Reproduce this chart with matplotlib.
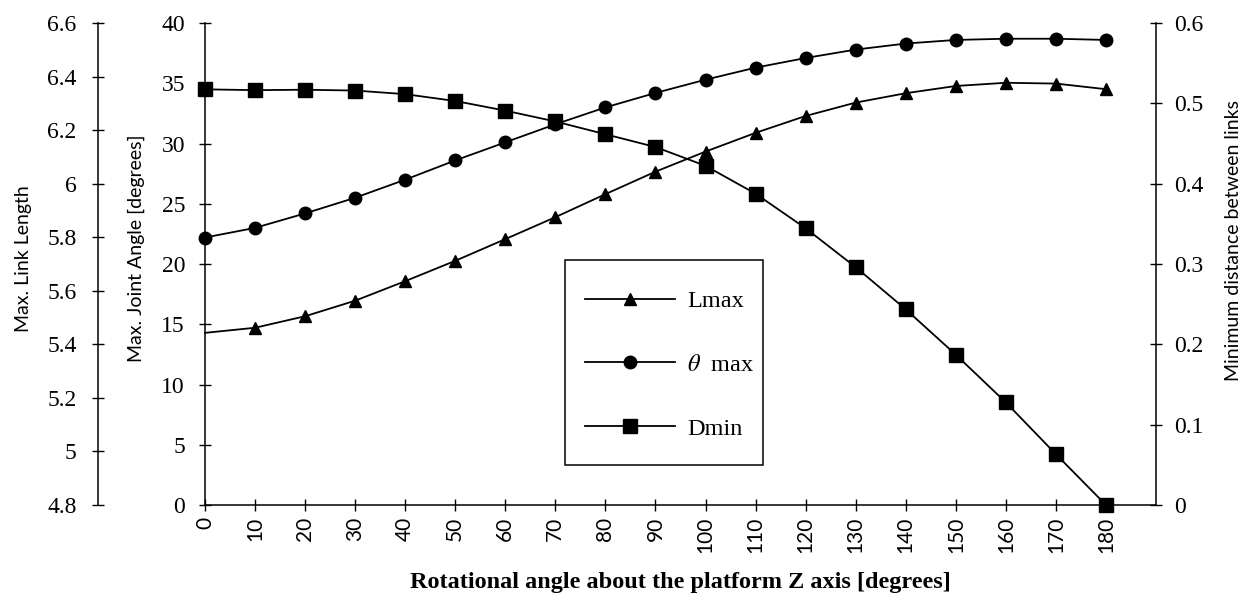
import matplotlib
matplotlib.use("Agg")
import matplotlib.pyplot as plt
from matplotlib.patches import Rectangle

plt.rcParams['mathtext.fontset'] = 'stix'

# rotation angle of the platform about Z [deg]
angle = [0, 10, 20, 30, 40, 50, 60, 70, 80, 90, 100, 110, 120, 130, 140, 150, 160, 170, 180]

# max link length
l_max = [5.443, 5.462, 5.505, 5.563, 5.636, 5.712, 5.793, 5.875, 5.961, 6.045,
         6.120, 6.190, 6.253, 6.303, 6.338, 6.365, 6.377, 6.374, 6.353]

# max joint angle [deg]
theta_max = [22.2, 23.0, 24.2, 25.5, 27.0, 28.6, 30.1, 31.6, 33.0, 34.2,
             35.3, 36.3, 37.1, 37.8, 38.3, 38.6, 38.7, 38.7, 38.6]

# min distance between links
d_min = [0.5175, 0.5165, 0.517, 0.516, 0.5115, 0.503, 0.491, 0.4775, 0.4616, 0.4457,
         0.4223, 0.3876, 0.3445, 0.2961, 0.2436, 0.1871, 0.1277, 0.0632, 0.0]

x_ticks = list(range(0, 190, 10))
theta_ticks = list(range(0, 45, 5))
l_ticks = [4.8, 5.0, 5.2, 5.4, 5.6, 5.8, 6.0, 6.2, 6.4, 6.6]
l_ticklabels = ['4.8', '5', '5.2', '5.4', '5.6', '5.8', '6', '6.2', '6.4', '6.6']
d_ticks = [0, 0.1, 0.2, 0.3, 0.4, 0.5, 0.6]
d_ticklabels = ['0', '0.1', '0.2', '0.3', '0.4', '0.5', '0.6']

serif = 'Liberation Serif'
sans = ['Lato', 'DejaVu Sans']

W, H = 1257, 607
fig = plt.figure(figsize=(W / 100, H / 100), dpi=100)
ax = fig.add_axes([0.163, 0.168, 0.7567, 0.794])
ax_l = ax.twinx()
ax_d = ax.twinx()

lw = 1.3
tick_kw = dict(direction='inout', length=8.6, width=1.0, color='black')

# middle axis: joint angle
ax.set_xlim(0, 190)
ax.set_ylim(0, 40)
ax.set_xticks(x_ticks)
ax.set_xticklabels([str(v) for v in x_ticks], rotation=90, fontfamily=sans, fontsize=15)
ax.set_yticks(theta_ticks)
ax.set_yticklabels([str(v) for v in theta_ticks], fontfamily=serif, fontsize=17)
ax.tick_params(axis='y', pad=10, **tick_kw)
ax.tick_params(axis='x', pad=4, **tick_kw)
for s in ['top', 'right']:
    ax.spines[s].set_visible(False)
for s in ['left', 'bottom']:
    ax.spines[s].set_linewidth(1.1)
ax.set_ylabel('Max. Joint Angle [degrees]', fontfamily=sans, fontsize=14, labelpad=12)
ax.yaxis.label.set_y(0.533)
ax.set_xlabel('Rotational angle about the platform Z axis [degrees]',
              fontfamily=serif, fontweight='bold', fontsize=17.5, labelpad=14)

# outer left axis: link length
ax_l.set_ylim(4.8, 6.6)
ax_l.spines['left'].set_position(('outward', 77))
ax_l.spines['left'].set_visible(True)
ax_l.spines['left'].set_linewidth(1.1)
for s in ['top', 'right', 'bottom']:
    ax_l.spines[s].set_visible(False)
ax_l.yaxis.set_ticks_position('left')
ax_l.yaxis.set_label_position('left')
ax_l.set_yticks(l_ticks)
ax_l.set_yticklabels(l_ticklabels, fontfamily=serif, fontsize=17)
ax_l.tick_params(axis='y', pad=11, **tick_kw)
ax_l.set_ylabel('Max. Link Length', fontfamily=sans, fontsize=14, labelpad=11)
ax_l.yaxis.label.set_y(0.512)

# right axis: minimum distance
ax_d.set_ylim(0, 0.6)
for s in ['top', 'left', 'bottom']:
    ax_d.spines[s].set_visible(False)
ax_d.spines['right'].set_linewidth(1.1)
ax_d.set_yticks(d_ticks)
ax_d.set_yticklabels(d_ticklabels, fontfamily=serif, fontsize=17)
ax_d.tick_params(axis='y', pad=9, **tick_kw)
ax_d.set_ylabel('Minimum distance between links', fontfamily=sans, fontsize=14, labelpad=15)
ax_d.yaxis.label.set_y(0.548)

h1, = ax_l.plot(angle, l_max, color='black', lw=lw, marker='^', markersize=9,
                markevery=list(range(1, len(angle))), label='Lmax', clip_on=False)
h2, = ax.plot(angle, theta_max, color='black', lw=lw, marker='o', markersize=9,
              label=r'$\theta$  max', clip_on=False)
h3, = ax_d.plot(angle, d_min, color='black', lw=lw, marker='s', markersize=9.5,
                label='Dmin', clip_on=False)

# legend box, drawn in figure pixels
box = Rectangle((565 / W, 1 - 465 / H), 198 / W, 205 / H,
                transform=fig.transFigure, facecolor='white',
                edgecolor='black', linewidth=1.1, zorder=5, clip_on=False)
ax_d.add_patch(box)
leg = ax_d.legend(handles=[h1, h2, h3], loc='upper left',
                  bbox_to_anchor=(585 / W, 1 - 290 / H), bbox_transform=fig.transFigure,
                  borderaxespad=0, borderpad=0, frameon=False,
                  prop={'family': serif, 'size': 17.5},
                  handlelength=3.7, handletextpad=0.5, labelspacing=1.72)
leg.set_zorder(6)

fig.savefig('out.png', dpi=100)
